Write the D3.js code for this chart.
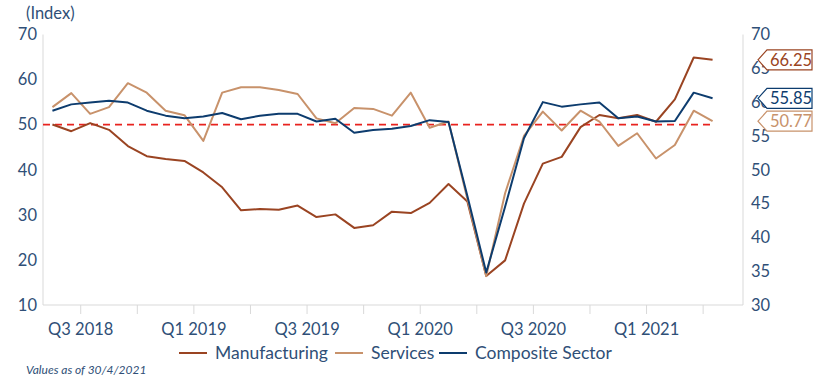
<!DOCTYPE html>
<meta charset="utf-8">
<style>
body { margin: 0; background: #fff; }
text { font-family: Lato, "Open Sans", sans-serif; fill: #2f4f77; }
.axis .domain { display: none; }
.axis line { stroke: #d9d9d9; }
</style>
<svg width="834" height="382"></svg>
<script src="https://d3js.org/d3.v7.min.js"></script>
<script>

var months = ["2018-05","2018-06","2018-07","2018-08","2018-09","2018-10","2018-11","2018-12",
  "2019-01","2019-02","2019-03","2019-04","2019-05","2019-06","2019-07","2019-08","2019-09","2019-10",
  "2019-11","2019-12","2020-01","2020-02","2020-03","2020-04","2020-05","2020-06","2020-07","2020-08",
  "2020-09","2020-10","2020-11","2020-12","2021-01","2021-02","2021-03","2021-04"];

// right axis
var manufacturing = [56.7,55.7,56.9,55.9,53.5,52.0,51.6,51.3,49.6,47.4,44.0,44.2,44.1,44.7,43.0,43.4,41.4,41.8,
  43.8,43.6,45.1,47.9,45.3,34.3,36.6,45.0,50.9,51.9,56.3,58.1,57.6,58.1,57.1,60.4,66.6,66.25];
// left axis
var services = [53.9,57.0,52.4,53.9,59.2,57.1,53.1,52.1,46.4,57.1,58.3,58.3,57.7,56.8,51.4,50.3,53.7,53.5,
  52.0,57.1,49.3,50.7,33.5,16.4,34.8,47.5,52.9,48.7,53.1,50.7,45.3,48.1,42.5,45.5,53.1,50.77];
var composite = [53.1,54.5,54.9,55.3,54.9,53.1,52.0,51.4,51.8,52.6,51.2,52.0,52.4,52.4,50.7,51.3,48.2,48.8,
  49.1,49.7,51.0,50.6,34.2,17.2,31.8,47.0,55.0,54.0,54.5,54.9,51.4,51.8,50.7,50.8,57.1,55.85];

var leftTicks = [10,20,30,40,50,60,70];
var rightTicks = [30,35,40,45,50,55,60,65,70];
var quarterTicks = ["2018-07","2018-10","2019-01","2019-04","2019-07","2019-10","2020-01","2020-04",
  "2020-07","2020-10","2021-01","2021-04"];
var quarterLabels = ["Q3 2018","","Q1 2019","","Q3 2019","","Q1 2020","","Q3 2020","","Q1 2021",""];

var seriesNames = ["Manufacturing","Services","Composite Sector"];
var seriesColors = ["#9a4422","#c8926b","#0d3c6e"];
var lastLabels = ["66.25","50.77","55.85"];

var svg = d3.select("svg");
var pLeft = 43, pRight = 743, pTop = 34.5, pBottom = 305;

var x = d3.scaleBand().domain(months).range([pLeft, 722]);
var yL = d3.scaleLinear().domain([10, 70]).range([pBottom, pTop]);
var yR = d3.scaleLinear().domain([30, 70]).range([pBottom, pTop]);

// axis frame
svg.append("line").attr("x1", pLeft).attr("x2", pLeft).attr("y1", pTop).attr("y2", pBottom).attr("stroke", "#d9d9d9");
svg.append("line").attr("x1", pRight).attr("x2", pRight).attr("y1", pTop).attr("y2", pBottom).attr("stroke", "#d9d9d9");
svg.append("line").attr("x1", pLeft).attr("x2", pRight).attr("y1", pBottom).attr("y2", pBottom).attr("stroke", "#d9d9d9");

// x axis: ticks on quarter boundaries
var gx = svg.append("g").attr("class", "axis").attr("transform", "translate(0," + pBottom + ")")
  .call(d3.axisBottom(x).tickValues(quarterTicks).tickSize(9).tickPadding(9)
    .tickFormat(function(d, i) { return quarterLabels[i]; }));
gx.selectAll(".tick").attr("transform", function(d) { return "translate(" + x(d) + ",0)"; });
gx.selectAll("text").attr("font-size", 16.5).attr("fill", "#2f4f77");

var gl = svg.append("g").attr("class", "axis").attr("transform", "translate(" + (pLeft - 3) + ",0)")
  .call(d3.axisLeft(yL).tickValues(leftTicks).tickSize(0));
gl.selectAll("text").attr("font-size", 16.5).attr("fill", "#2f4f77");

var gr = svg.append("g").attr("class", "axis").attr("transform", "translate(" + (pRight + 5) + ",0)")
  .call(d3.axisRight(yR).tickValues(rightTicks).tickSize(0));
gr.selectAll("text").attr("font-size", 16.5).attr("fill", "#2f4f77");

svg.selectAll(".axis").attr("font-family", null);

svg.append("text").attr("x", 26).attr("y", 19).attr("font-size", 16.5).text("(Index)");

// 50 reference line
svg.append("line").attr("x1", pLeft).attr("x2", pRight - 30)
  .attr("y1", yL(50)).attr("y2", yL(50))
  .attr("stroke", "#e8231f").attr("stroke-width", 1.6).attr("stroke-dasharray", "7,5");

var cx = function(d, i) { return x(months[i]) + x.bandwidth() / 2; };
var series = [
  { v: manufacturing, y: yR },
  { v: services, y: yL },
  { v: composite, y: yL }
];
series.forEach(function(s, k) {
  svg.append("path").datum(s.v)
    .attr("fill", "none")
    .attr("stroke", seriesColors[k])
    .attr("stroke-width", 2)
    .attr("stroke-linejoin", "round")
    .attr("d", d3.line().x(cx).y(function(d) { return s.y(d); }));
});

// end value labels
series.forEach(function(s, k) {
  var yy = s.y(s.v[s.v.length - 1]);
  var g = svg.append("g").attr("transform", "translate(758," + yy + ")");
  g.append("path")
    .attr("d", "M0,0 L9,-10 L54,-10 L54,10 L9,10 Z")
    .attr("fill", "#fff").attr("stroke", seriesColors[k]).attr("stroke-width", 1.2);
  g.append("text").attr("x", 33).attr("y", 6).attr("text-anchor", "middle")
    .attr("font-size", 16.5).style("fill", seriesColors[k]).text(lastLabels[k]);
});

// legend
var legendX = [179, 335, 439];
seriesNames.forEach(function(n, k) {
  var g = svg.append("g").attr("transform", "translate(" + legendX[k] + ",353)");
  g.append("line").attr("x1", 0).attr("x2", 28).attr("stroke", seriesColors[k]).attr("stroke-width", 2);
  g.append("text").attr("x", 36).attr("y", 6).attr("font-size", 17.5).text(n);
});

svg.append("text").attr("x", 26).attr("y", 374).attr("font-size", 12)
  .attr("font-style", "italic").text("Values as of 30/4/2021");

</script>
